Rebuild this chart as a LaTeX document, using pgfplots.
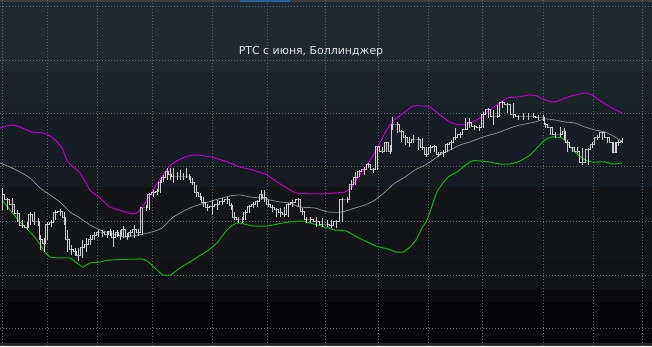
\documentclass[border=0pt]{standalone}
\usepackage{pgfplots}
\pgfplotsset{compat=1.18}
\usepackage{pgfplotstable}
\usepackage{fontspec}
\setmainfont{DejaVu Sans}
\definecolor{pricecol}{HTML}{CFCFCF}
\definecolor{midcol}{HTML}{8C8C8C}
\definecolor{upcol}{HTML}{C000C0}
\definecolor{lowcol}{HTML}{14B014}
\definecolor{gridcol}{HTML}{5A646E}
\definecolor{bgA}{HTML}{1E2A31}
\definecolor{bgB}{HTML}{1A252A}
\definecolor{bgC}{HTML}{18212A}
\definecolor{bgD}{HTML}{161D26}
\definecolor{bgE}{HTML}{151A21}
\definecolor{bgF}{HTML}{131518}
\definecolor{bgG}{HTML}{111214}
\definecolor{bgH}{HTML}{0B0B0D}
\definecolor{bgI}{HTML}{040406}
\definecolor{topblue}{HTML}{2F5F9A}
% price bars: x, close, high, low (values in screen rows, counted from the top)
\pgfplotstableread{
x c hi lo
2 195 188 210
7 200 198 210
12 205 198 212
17 214 210 222
22 226 220 228
27 228 222 230
30 215 212 225
34 222 212 225
38 222 218 226
40 240 235 250
44 244 238 252
47 225 222 240
51 223 220 227
55 213 210 220
60 212 209 216
64 218 212 225
67 240 230 252
71 250 245 255
75 252 248 256
78 256 248 261
82 248 240 258
86 245 238 252
90 240 235 245
94 236 232 240
98 233 230 237
102 233 230 237
107 235 231 238
110 232 229 236
113 238 230 247
117 233 230 237
120 236 230 240
123 230 226 238
127 237 233 240
130 233 230 236
134 230 225 238
138 233 229 236
142 208 208 235
146 208 205 211
149 195 193 210
153 193 190 197
157 192 189 195
160 183 180 193
163 178 175 182
167 172 168 180
170 175 168 180
173 177 168 183
177 177 172 180
180 177 170 180
183 177 173 180
186 177 168 178
189 177 174 180
192 183 178 185
196 193 185 197
200 197 193 200
203 203 197 207
207 208 204 211
212 207 200 215
217 205 200 210
222 202 198 205
227 200 197 204
231 206 203 210
234 218 212 220
238 220 217 223
242 220 217 223
245 213 210 220
249 207 205 213
253 205 202 208
257 202 200 207
261 195 190 200
264 198 190 202
268 205 200 207
272 208 205 212
276 210 208 217
280 213 208 217
284 215 207 217
288 205 203 217
292 203 200 207
298 200 198 207
302 212 208 215
306 220 217 223
310 220 217 223
316 222 217 227
322 225 218 227
327 225 220 227
331 226 220 228
336 222 220 228
342 200 198 222
347 200 197 203
351 185 180 190
355 178 172 185
359 172 170 177
364 170 167 175
368 165 163 168
373 170 168 173
377 147 147 170
382 152 147 153
386 143 142 152
390 152 145 154
392 125 117 130
397 125 122 133
401 132 130 142
405 138 135 145
409 143 137 147
413 140 135 143
418 140 137 150
422 148 138 150
426 155 147 157
430 148 145 153
434 147 145 152
438 155 152 157
443 153 150 157
447 145 143 152
451 143 140 150
455 138 128 140
460 135 132 138
465 130 118 130
469 123 118 128
474 127 125 130
479 128 125 131
483 115 112 128
488 110 108 118
493 117 110 125
497 117 105 118
502 103 101 108
507 105 103 113
513 115 103 118
518 117 115 120
523 117 113 120
528 117 113 120
533 117 113 118
538 118 115 120
543 118 115 121
545 125 123 128
550 128 127 135
555 135 132 138
560 135 127 137
564 132 128 140
567 143 140 152
572 148 147 152
577 152 147 153
582 163 148 165
588 150 148 165
592 145 142 148
597 138 135 140
602 133 132 140
607 138 137 143
612 143 142 153
615 153 142 153
618 143 140 146
622 142 138 143
}\pricedata
\pgfplotstableread{
x y
0 128
12 125
20 127
32 132
43 133
53 138
62 148
68 162
80 173
90 190
100 198
110 207
125 212
133 214
138 212
145 203
152 192
158 182
168 168
175 162
185 157
195 155
205 156
215 158
230 163
240 167
253 170
267 175
277 182
287 188
297 193
320 194
335 193
345 192
352 187
357 179
365 168
375 152
385 133
392 122
398 117
405 112
413 106
422 106
430 107
440 115
450 122
460 125
470 123
480 118
487 112
497 105
507 98
517 97
530 95
537 96
545 100
555 102
565 98
575 95
585 93
592 95
602 102
612 108
622 113
}\updata
\pgfplotstableread{
x y
0 163
10 167
20 172
30 178
40 188
50 195
60 202
70 212
80 218
90 225
100 230
110 233
125 237
138 235
152 232
162 228
172 218
182 212
192 207
205 203
215 200
222 198
230 196
240 195
250 197
260 198
270 200
280 202
290 203
300 207
315 208
328 212
342 212
355 208
365 205
375 200
385 192
395 183
405 177
415 170
425 165
430 162
440 155
450 150
460 145
470 142
480 138
490 135
500 132
510 128
520 125
535 122
545 119
555 120
565 122
575 123
585 127
595 130
605 132
615 137
623 142
}\middata
\pgfplotstableread{
x y
2 200
10 210
20 222
30 232
37 240
45 252
50 257
60 258
70 258
77 263
83 267
90 263
100 262
110 260
140 259
147 261
157 270
163 275
170 275
180 268
193 260
207 251
217 243
227 230
237 223
253 226
267 226
283 223
300 221
310 223
325 227
335 230
346 231
359 238
376 246
388 249
396 252
403 252
410 247
416 240
422 228
426 222
430 212
437 192
447 178
457 172
463 167
472 161
480 161
490 162
500 164
510 164
520 161
530 155
535 150
545 140
552 137
562 138
567 143
575 152
585 160
592 162
605 162
612 164
622 163
}\lowdata
\begin{document}
\begin{tikzpicture}
\begin{axis}[
  set layers,
  width=489pt, height=259.5pt, scale only axis,
  xmin=0, xmax=652, ymin=0, ymax=346,
  axis line style={draw=none},
  xtick={2,47,97,152,212,267,325,378,428,482,543,593,642},
  ytick={18,71,125,180,233,286,340},
  xticklabels={}, yticklabels={},
  major tick length=0pt, tick style={draw=none},
  grid=major,
  grid style={gridcol, line width=0.6pt, dash pattern=on 0.75pt off 1.5pt},
  clip=true,
]
\begin{pgfonlayer}{axis background}
\fill[bgA] (axis cs:0,346) rectangle (axis cs:652,274);
\fill[bgB] (axis cs:0,274) rectangle (axis cs:652,242);
\fill[bgC] (axis cs:0,242) rectangle (axis cs:652,233);
\fill[bgD] (axis cs:0,233) rectangle (axis cs:652,182);
\fill[bgE] (axis cs:0,182) rectangle (axis cs:652,159);
\fill[bgF] (axis cs:0,159) rectangle (axis cs:652,86);
\fill[bgG] (axis cs:0,86) rectangle (axis cs:652,56);
\fill[bgH] (axis cs:0,56) rectangle (axis cs:652,44);
\fill[bgI] (axis cs:0,44) rectangle (axis cs:652,0);
\fill[black!75] (axis cs:0,346) rectangle (axis cs:652,343.5);
\fill[topblue] (axis cs:240,346) rectangle (axis cs:290,343.5);
\fill[black!85] (axis cs:0,3) rectangle (axis cs:652,0);
\end{pgfonlayer}
% upper band
\addplot[upcol, line width=0.75pt, smooth, tension=0.4] table[x=x, y expr=346-\thisrow{y}] {\updata};
% middle band
\addplot[midcol, line width=0.6pt, smooth, tension=0.4] table[x=x, y expr=346-\thisrow{y}] {\middata};
% lower band
\addplot[lowcol, line width=0.75pt, smooth, tension=0.4] table[x=x, y expr=346-\thisrow{y}] {\lowdata};
% price bars
\addplot[pricecol, line width=0.75pt, const plot mark mid, mark=none,
  error bars/.cd, y dir=both, y explicit, error mark=none,
  error bar style={pricecol, line width=0.75pt}]
  table[x=x, y expr=346-\thisrow{c},
    y error plus expr=\thisrow{c}-\thisrow{hi},
    y error minus expr=\thisrow{lo}-\thisrow{c}] {\pricedata};
\node[text=white!90!black, font=\fontsize{8.2}{10}\selectfont, anchor=base] at (axis cs:311,291) {РТС с июня, Боллинджер};
\coordinate (sw) at (rel axis cs:0,0);
\coordinate (ne) at (rel axis cs:1,1);
\end{axis}
\pgfresetboundingbox
\path (sw) rectangle (ne);
\end{tikzpicture}
\end{document}
